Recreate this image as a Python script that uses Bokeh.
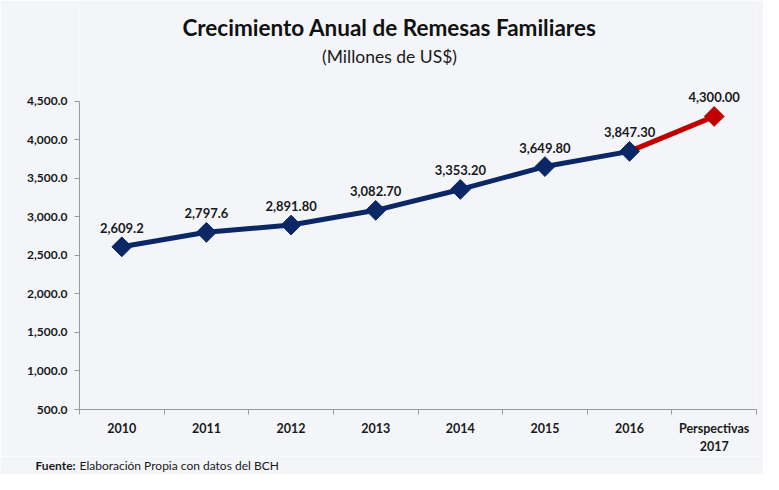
from bokeh.plotting import figure
from bokeh.layouts import column
from bokeh.models import FixedTicker, NumeralTickFormatter, Label, LabelSet, Range1d, ColumnDataSource
from bokeh.core.properties import value
from bokeh.embed import file_html
from bokeh.resources import INLINE
import math

categories = ["2010", "2011", "2012", "2013", "2014", "2015", "2016", "Perspectivas\n2017"]
values = [2609.2, 2797.6, 2891.8, 3082.7, 3353.2, 3649.8, 3847.3, 4300.0]
value_labels = ["2,609.2", "2,797.6", "2,891.80", "3,082.70", "3,353.20", "3,649.80", "3,847.30", "4,300.00"]
y_ticks = [500, 1000, 1500, 2000, 2500, 3000, 3500, 4000, 4500]
title_text = "Crecimiento Anual de Remesas Familiares"
subtitle_text = "(Millones de US$)"
source_bold = "Fuente:"
source_text = "Elaboración Propia con datos del BCH"

NAVY = "#0c2765"
RED = "#c00000"
BG = "#f3f5f8"
TXT = "#1a1a1a"
AX = "#9a9a9a"
FONT = "Lato"

# layout in pixels
W = 763
H_MAIN, H_FOOT = 456, 18
LEFT, RIGHT = 79, 7
FRAME_BOTTOM = 411          # y pixel of the x axis (value 500)
Y_TOP_PX = 101              # y pixel of the top tick (value 4500)
FH = FRAME_BOTTOM           # frame runs from the canvas top to the x axis
units_per_px = (y_ticks[-1] - y_ticks[0]) / (FRAME_BOTTOM - Y_TOP_PX)
y_end = y_ticks[-1] + Y_TOP_PX * units_per_px

n = len(categories)
xs = [i + 0.5 for i in range(n)]

p = figure(width=W, height=H_MAIN, x_range=Range1d(0, n), y_range=Range1d(y_ticks[0], y_end),
           output_backend="svg", toolbar_location=None,
           min_border_left=LEFT, min_border_right=RIGHT, min_border_top=0,
           min_border_bottom=H_MAIN - FRAME_BOTTOM,
           background_fill_color=BG, border_fill_color=BG)
p.outline_line_color = None
p.xgrid.visible = False
p.ygrid.visible = False

# x axis: labels at category centres, ticks at category boundaries
p.xaxis.ticker = FixedTicker(ticks=xs, minor_ticks=list(range(n + 1)))
p.xaxis.major_label_overrides = {x: c for x, c in zip(xs, categories)}
p.xaxis.major_tick_out = 0
p.xaxis.major_tick_in = 0
p.xaxis.minor_tick_out = 5
p.xaxis.minor_tick_in = 0
p.xaxis.minor_tick_line_color = AX
p.xaxis.axis_line_color = AX
p.xaxis.major_label_standoff = 6
p.xaxis.major_label_text_font = FONT
p.xaxis.major_label_text_font_style = "bold"
p.xaxis.major_label_text_font_size = "12.5px"
p.xaxis.major_label_text_color = TXT

p.yaxis.ticker = FixedTicker(ticks=y_ticks, minor_ticks=[])
p.yaxis.bounds = (y_ticks[0], y_ticks[-1])
p.yaxis.formatter = NumeralTickFormatter(format="0,0.0")
p.yaxis.axis_line_color = AX
p.yaxis.major_tick_line_color = AX
p.yaxis.major_tick_out = 5
p.yaxis.major_tick_in = 0
p.yaxis.major_label_standoff = 7
p.yaxis.major_label_text_font = FONT
p.yaxis.major_label_text_font_style = "bold"
p.yaxis.major_label_text_font_size = "12px"
p.yaxis.major_label_text_color = TXT

# lines
p.line(xs[:-1], values[:-1], line_color=NAVY, line_width=5)
p.line(xs[-2:], values[-2:], line_color=RED, line_width=5)
p.scatter(xs[:-1], values[:-1], marker="square", angle=math.pi / 4, size=14,
          fill_color=NAVY, line_color=NAVY, line_width=1)
p.scatter(xs[-1:], values[-1:], marker="square", angle=math.pi / 4, size=14,
          fill_color=RED, line_color=RED, line_width=1)

src = ColumnDataSource(dict(x=xs, y=values, t=value_labels))
p.add_layout(LabelSet(x="x", y="y", text="t", source=src, text_align="center", text_baseline="bottom",
                      y_offset=14, text_font_size=value("13px"), text_font_style=value("bold"),
                      text_color=value(TXT), text_font=value(FONT)))

# titles (screen units relative to the plot frame, origin bottom-left)
p.add_layout(Label(x=389 - LEFT, y=FH - 29, x_units="screen", y_units="screen",
                   text=title_text, text_align="center",
                   text_baseline="middle", text_font=FONT, text_font_size="22.5px",
                   text_font_style="bold", text_color="#111111"))
p.add_layout(Label(x=389 - LEFT, y=FH - 58, x_units="screen", y_units="screen",
                   text=subtitle_text, text_align="center",
                   text_baseline="middle", text_font=FONT, text_font_size="17.5px",
                   text_font_style="normal", text_color=TXT))

# footer strip (its own frame, not aligned with the main plot's frame)
f = figure(width=W, height=H_FOOT, x_range=Range1d(0, W), y_range=Range1d(0, H_FOOT),
           output_backend="svg", toolbar_location=None, x_axis_type=None, y_axis_type=None,
           min_border=0, background_fill_color=BG, border_fill_color=BG)
f.frame_align = False
f.outline_line_color = None
f.grid.visible = False
f.text(x=[35], y=[H_FOOT / 2], text=[source_bold], text_font=value(FONT), text_font_size="12px",
       text_font_style="bold", text_color=TXT, text_baseline="middle")
f.text(x=[79], y=[H_FOOT / 2], text=[source_text], text_font=value(FONT), text_font_size="12px",
       text_font_style="normal", text_color=TXT, text_baseline="middle")

layout = column(p, f, spacing=0)
open("out.html", "w").write(file_html(layout, INLINE))
